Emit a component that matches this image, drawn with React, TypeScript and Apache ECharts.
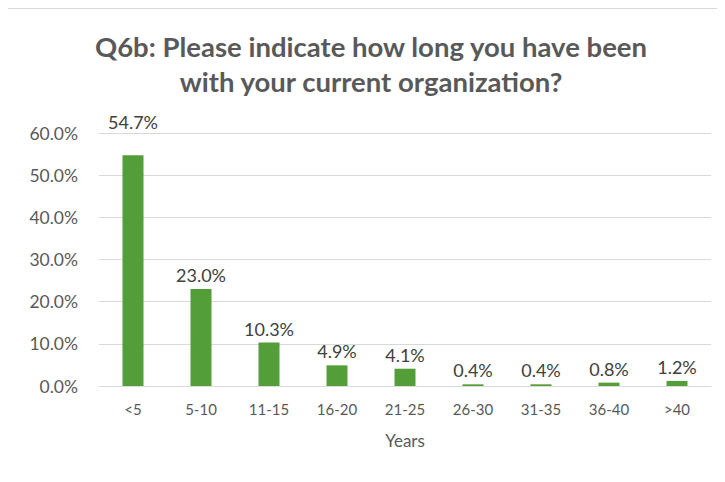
import React, { useEffect, useRef } from "react";
import * as echarts from "echarts";

const categories = ["<5", "5-10", "11-15", "16-20", "21-25", "26-30", "31-35", "36-40", ">40"];
const values = [54.7, 23.0, 10.3, 4.9, 4.1, 0.4, 0.4, 0.8, 1.2];
const titleText = "Q6b: Please indicate how long you have been\nwith your current organization?";
const xAxisName = "Years";

export default function App() {
  const ref = useRef<HTMLDivElement>(null);
  useEffect(() => {
    const chart = echarts.init(ref.current!, null, { renderer: "svg" });
    chart.setOption({
      animation: false,
      backgroundColor: "#ffffff",
      title: {
        text: titleText,
        left: 366,
        textAlign: "center",
        top: 24,
        textStyle: {
          fontFamily: "Lato",
          fontWeight: "bold",
          fontSize: 27.5,
          color: "#595959",
          lineHeight: 35,
        },
      },
      graphic: [
        {
          type: "rect",
          shape: { x: 7.5, y: 8.5, width: 740, height: 500 },
          style: { fill: "none", stroke: "#D9D9D9", lineWidth: 1 },
          z: -1,
        },
      ],
      grid: { left: 99, right: 14, top: 133, bottom: 96 },
      xAxis: {
        type: "category",
        data: categories,
        name: xAxisName,
        nameLocation: "middle",
        nameGap: 46,
        nameTextStyle: { fontFamily: "Lato", fontSize: 17, color: "#595959" },
        axisLine: { lineStyle: { color: "#D9D9D9", width: 1 } },
        axisTick: { show: false },
        axisLabel: { fontFamily: "Lato", fontSize: 15, color: "#595959", margin: 15 },
      },
      yAxis: {
        type: "value",
        min: 0,
        max: 60,
        interval: 10,
        axisLine: { show: false },
        axisTick: { show: false },
        splitLine: { lineStyle: { color: "#D9D9D9", width: 1 } },
        axisLabel: {
          fontFamily: "Lato",
          fontSize: 17.5,
          color: "#595959",
          margin: 21,
          formatter: (v: number) => v.toFixed(1) + "%",
        },
      },
      series: [
        {
          type: "bar",
          data: values.map((v, i) =>
            i === 0 ? { value: v, label: { distance: 24 } } : { value: v }
          ),
          barWidth: 21,
          itemStyle: { color: "#549E39" },
          label: {
            show: true,
            position: "top",
            distance: 5,
            fontFamily: "Lato",
            fontSize: 18,
            color: "#404040",
            formatter: (p: any) => Number(p.value).toFixed(1) + "%",
          },
        },
      ],
    });
    return () => chart.dispose();
  }, []);
  return <div ref={ref} style={{ width: 725, height: 482, margin: -8 }} />;
}
